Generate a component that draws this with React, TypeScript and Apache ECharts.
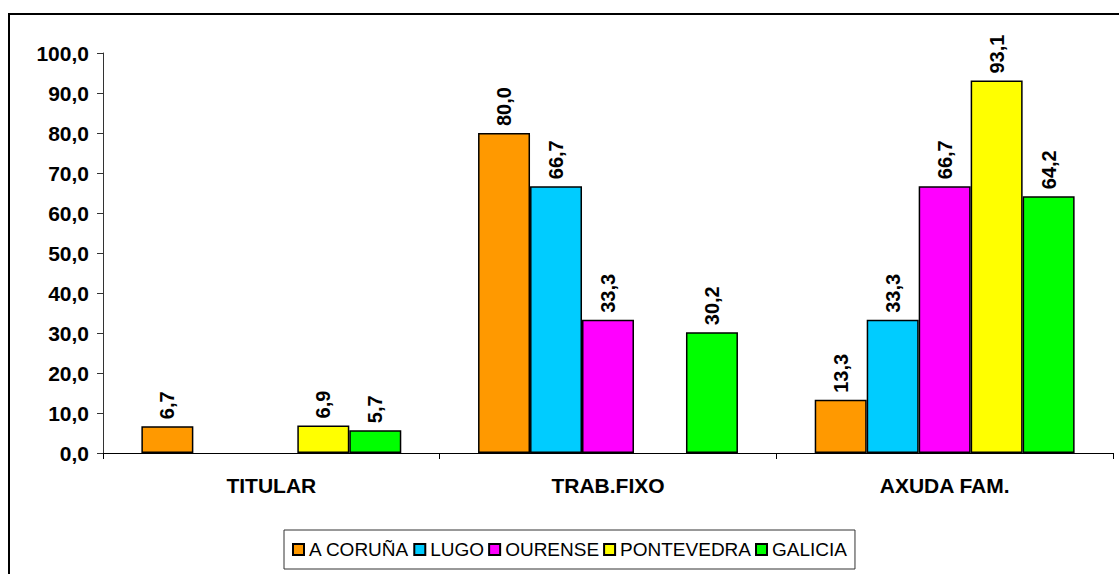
import React, { useEffect, useRef } from "react";
import * as echarts from "echarts";

const categories = ["TITULAR", "TRAB.FIXO", "AXUDA FAM."];
const seriesNames = ["A CORUÑA", "LUGO", "OURENSE", "PONTEVEDRA", "GALICIA"];
const aCoruna = [6.7, 80.0, 13.3];
const lugo = [null, 66.7, 33.3];
const ourense = [null, 33.3, 66.7];
const pontevedra = [6.9, null, 93.1];
const galicia = [5.7, 30.2, 64.2];
const colors = ["#FF9900", "#00CCFF", "#FF00FF", "#FFFF00", "#00FF00"];

const FONT = '"Liberation Sans", Arial, sans-serif';
const fmt = (v: number) => v.toFixed(1).replace(".", ",");

export default function App() {
  const ref = useRef<HTMLDivElement>(null);
  useEffect(() => {
    if (!ref.current) return;
    const chart = echarts.init(ref.current, undefined, { renderer: "svg" });
    const allData = [aCoruna, lugo, ourense, pontevedra, galicia];
    chart.setOption({
      animation: false,
      backgroundColor: "#fff",
      textStyle: { fontFamily: FONT },
      graphic: [
        {
          type: "rect",
          shape: { x: 9, y: 14, width: 1300, height: 800 },
          style: { fill: "none", stroke: "#000", lineWidth: 2 },
          silent: true,
          z: 100,
        },
      ],
      grid: { left: 103, right: 6, top: 53, bottom: 121 },
      legend: {
        left: 284,
        top: 530,
        padding: [10, 8, 10, 8],
        itemGap: 4,
        itemWidth: 11,
        itemHeight: 11,
        icon: "rect",
        borderColor: "#333",
        borderWidth: 1,
        textStyle: { fontFamily: FONT, fontSize: 19, color: "#000" },
        data: seriesNames,
      },
      xAxis: {
        type: "category",
        data: categories,
        axisLine: { lineStyle: { color: "#000", width: 1 } },
        axisTick: { show: true, alignWithLabel: false, length: 6, lineStyle: { color: "#000" } },
        axisLabel: {
          fontFamily: FONT,
          fontSize: 21,
          fontWeight: "bold",
          color: "#000",
          margin: 22,
        },
      },
      yAxis: {
        type: "value",
        min: 0,
        max: 100,
        interval: 10,
        splitLine: { show: false },
        axisLine: { show: true, lineStyle: { color: "#333", width: 1 } },
        axisTick: { show: true, length: 6, lineStyle: { color: "#333" } },
        axisLabel: {
          fontFamily: FONT,
          fontSize: 21,
          fontWeight: "bold",
          color: "#000",
          margin: 14,
          formatter: (v: number) => fmt(v),
        },
      },
      series: seriesNames.map((name, i) => ({
        name,
        type: "bar",
        data: allData[i],
        barGap: "0%",
        barCategoryGap: "22.8%",
        itemStyle: { color: colors[i], borderColor: "#000", borderWidth: 1.5 },
        label: {
          show: true,
          position: "top",
          rotate: 90,
          align: "left",
          verticalAlign: "middle",
          distance: 7,
          fontFamily: FONT,
          fontSize: 20,
          fontWeight: "bold",
          color: "#000",
          formatter: (p: any) => (p.value == null ? "" : fmt(p.value)),
        },
      })),
    });
    return () => chart.dispose();
  }, []);
  return (
    <div
      ref={ref}
      style={{ position: "absolute", left: 0, top: 0, width: 1119, height: 574 }}
    />
  );
}
